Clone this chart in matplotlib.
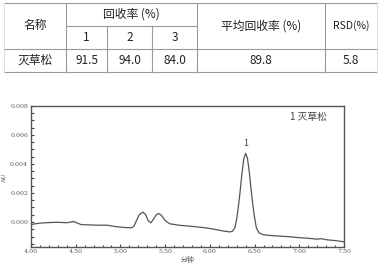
import matplotlib
matplotlib.use("Agg")
import matplotlib.pyplot as plt
from matplotlib.ticker import MultipleLocator

plt.rcParams['font.family'] = ['Noto Sans CJK SC', 'DejaVu Sans']

# table data
col_name = "名称"
rec_header = "回收率 (%)"
rec_cols = ["1", "2", "3"]
avg_header = "平均回收率 (%)"
rsd_header = "RSD(%)"
compound = "灭草松"
recoveries = ["91.5", "94.0", "84.0"]
avg_recovery = "89.8"
rsd_value = "5.8"

# chromatogram (min, AU)
times = [4.00, 4.05, 4.10, 4.20, 4.30, 4.40, 4.45, 4.48, 4.52, 4.56, 4.65, 4.75,
         4.85, 4.95, 5.05, 5.12, 5.15, 5.18, 5.21, 5.25, 5.28, 5.31, 5.34, 5.37,
         5.40, 5.43, 5.46, 5.50, 5.55, 5.65, 5.80, 5.95, 6.05, 6.15, 6.22, 6.25,
         6.28, 6.30, 6.32, 6.34, 6.36, 6.38, 6.40, 6.42, 6.44, 6.46, 6.48, 6.50,
         6.52, 6.55, 6.60, 6.70, 6.80, 6.90, 7.00, 7.10, 7.20, 7.25, 7.30, 7.40, 7.50]
au = [-0.00018, -0.00012, -0.00008, -0.00004, -0.00002, -0.00005, 0.00000, 0.00003,
      -0.00008, -0.00018, -0.00020, -0.00022, -0.00022, -0.00032, -0.00038, -0.00040,
      -0.00030, 0.00010, 0.00050, 0.00068, 0.00052, 0.00010, -0.00006, 0.00020,
      0.00050, 0.00058, 0.00045, 0.00010, -0.00012, -0.00022, -0.00030, -0.00040,
      -0.00050, -0.00062, -0.00068, -0.00065, -0.00040, 0.00020, 0.00110, 0.00220,
      0.00340, 0.00435, 0.00472, 0.00440, 0.00350, 0.00230, 0.00120, 0.00030,
      -0.00040, -0.00075, -0.00088, -0.00094, -0.00098, -0.00102, -0.00108,
      -0.00112, -0.00118, -0.00115, -0.00122, -0.00128, -0.00136]
peak_label = "1"
peak_time = 6.40
legend_text = "1 灭草松"
x_ticks = [4.00, 4.50, 5.00, 5.50, 6.00, 6.50, 7.00, 7.50]
y_ticks = [0.000, 0.002, 0.004, 0.006, 0.008]

W, H = 385, 267
fig = plt.figure(figsize=(W / 100, H / 100), dpi=100)

# ---- table (pixel coords -> figure fraction) ----
def fx(px):
    return px / W

def fy(py):
    return 1 - py / H

line_c = "#9a9a9a"
txt_c = "#222222"
cols = [4, 66, 107, 152, 197, 325, 377]
rows = [3, 26, 49, 72]

def hline(y, x0, x1, c=line_c):
    fig.add_artist(plt.Line2D([fx(x0), fx(x1)], [fy(y), fy(y)], color=c, lw=0.8))

def vline(x, y0, y1, c=line_c):
    fig.add_artist(plt.Line2D([fx(x), fx(x)], [fy(y0), fy(y1)], color=c, lw=0.8))

hline(rows[0], cols[0], cols[-1])
hline(rows[1], cols[1], cols[4])
hline(rows[2], cols[0], cols[-1])
hline(rows[3], cols[0], cols[-1])
vline(cols[0], rows[0], rows[3], c="#dddddd")
vline(cols[-1], rows[0], rows[3], c="#dddddd")
for x in [cols[1], cols[4], cols[5]]:
    vline(x, rows[0], rows[3])
for x in [cols[2], cols[3]]:
    vline(x, rows[1], rows[3])

def cell(x0, x1, y0, y1, s, size=8.5):
    fig.text(fx((x0 + x1) / 2), fy((y0 + y1) / 2), s, ha="center", va="center",
             fontsize=size, color=txt_c)

cell(cols[0], cols[1], rows[0], rows[2], col_name)
cell(cols[1], cols[4], rows[0], rows[1], rec_header)
for i, lab in enumerate(rec_cols):
    cell(cols[1 + i], cols[2 + i], rows[1], rows[2], lab)
cell(cols[4], cols[5], rows[0], rows[2], avg_header)
cell(cols[5], cols[6], rows[0], rows[2], rsd_header, size=7.5)
cell(cols[0], cols[1], rows[2], rows[3], compound)
for i, v in enumerate(recoveries):
    cell(cols[1 + i], cols[2 + i], rows[2], rows[3], v)
cell(cols[4], cols[5], rows[2], rows[3], avg_recovery)
cell(cols[5], cols[6], rows[2], rows[3], rsd_value)

# ---- chromatogram ----
ax = fig.add_axes([fx(31), fy(246.7), fx(344) - fx(31), fy(105.7) - fy(246.7)])
ax.plot(times, au, color="#555555", lw=0.9)
ax.set_xlim(4.0, 7.5)
ax.set_ylim(-0.0017, 0.008)
ax.set_xticks(x_ticks)
ax.set_xticklabels([f"{t:.2f}" for t in x_ticks], fontsize=4.5, family="DejaVu Serif", color="#555555")
ax.set_yticks(y_ticks)
ax.set_yticklabels([f"{v:.3f}" for v in y_ticks], fontsize=4.5, family="DejaVu Serif", color="#555555")
ax.xaxis.set_minor_locator(MultipleLocator(0.1))
ax.yaxis.set_minor_locator(MultipleLocator(0.0005))
ax.tick_params(which="both", direction="in", length=2.5, width=0.8, color="#444444", pad=2)
ax.tick_params(which="minor", length=1.8)
ax.tick_params(top=False, right=False)
for sp in ax.spines.values():
    sp.set_color("#555555")
    sp.set_linewidth(1.0)

fig.text(fx(5), fy(178), "AU", rotation=90, ha="center", va="center",
         fontsize=4.5, color="#555555", family="DejaVu Serif")
ax.set_xlabel("分钟", fontsize=5, color="#555555", labelpad=1)
ax.text(peak_time, 0.0051, peak_label, ha="center", va="bottom", fontsize=6.5, color="#444444")
ax.text(0.945, 0.92, legend_text, transform=ax.transAxes, ha="right", va="center",
        fontsize=7, color="#444444")

fig.savefig("out.png", dpi=100)
